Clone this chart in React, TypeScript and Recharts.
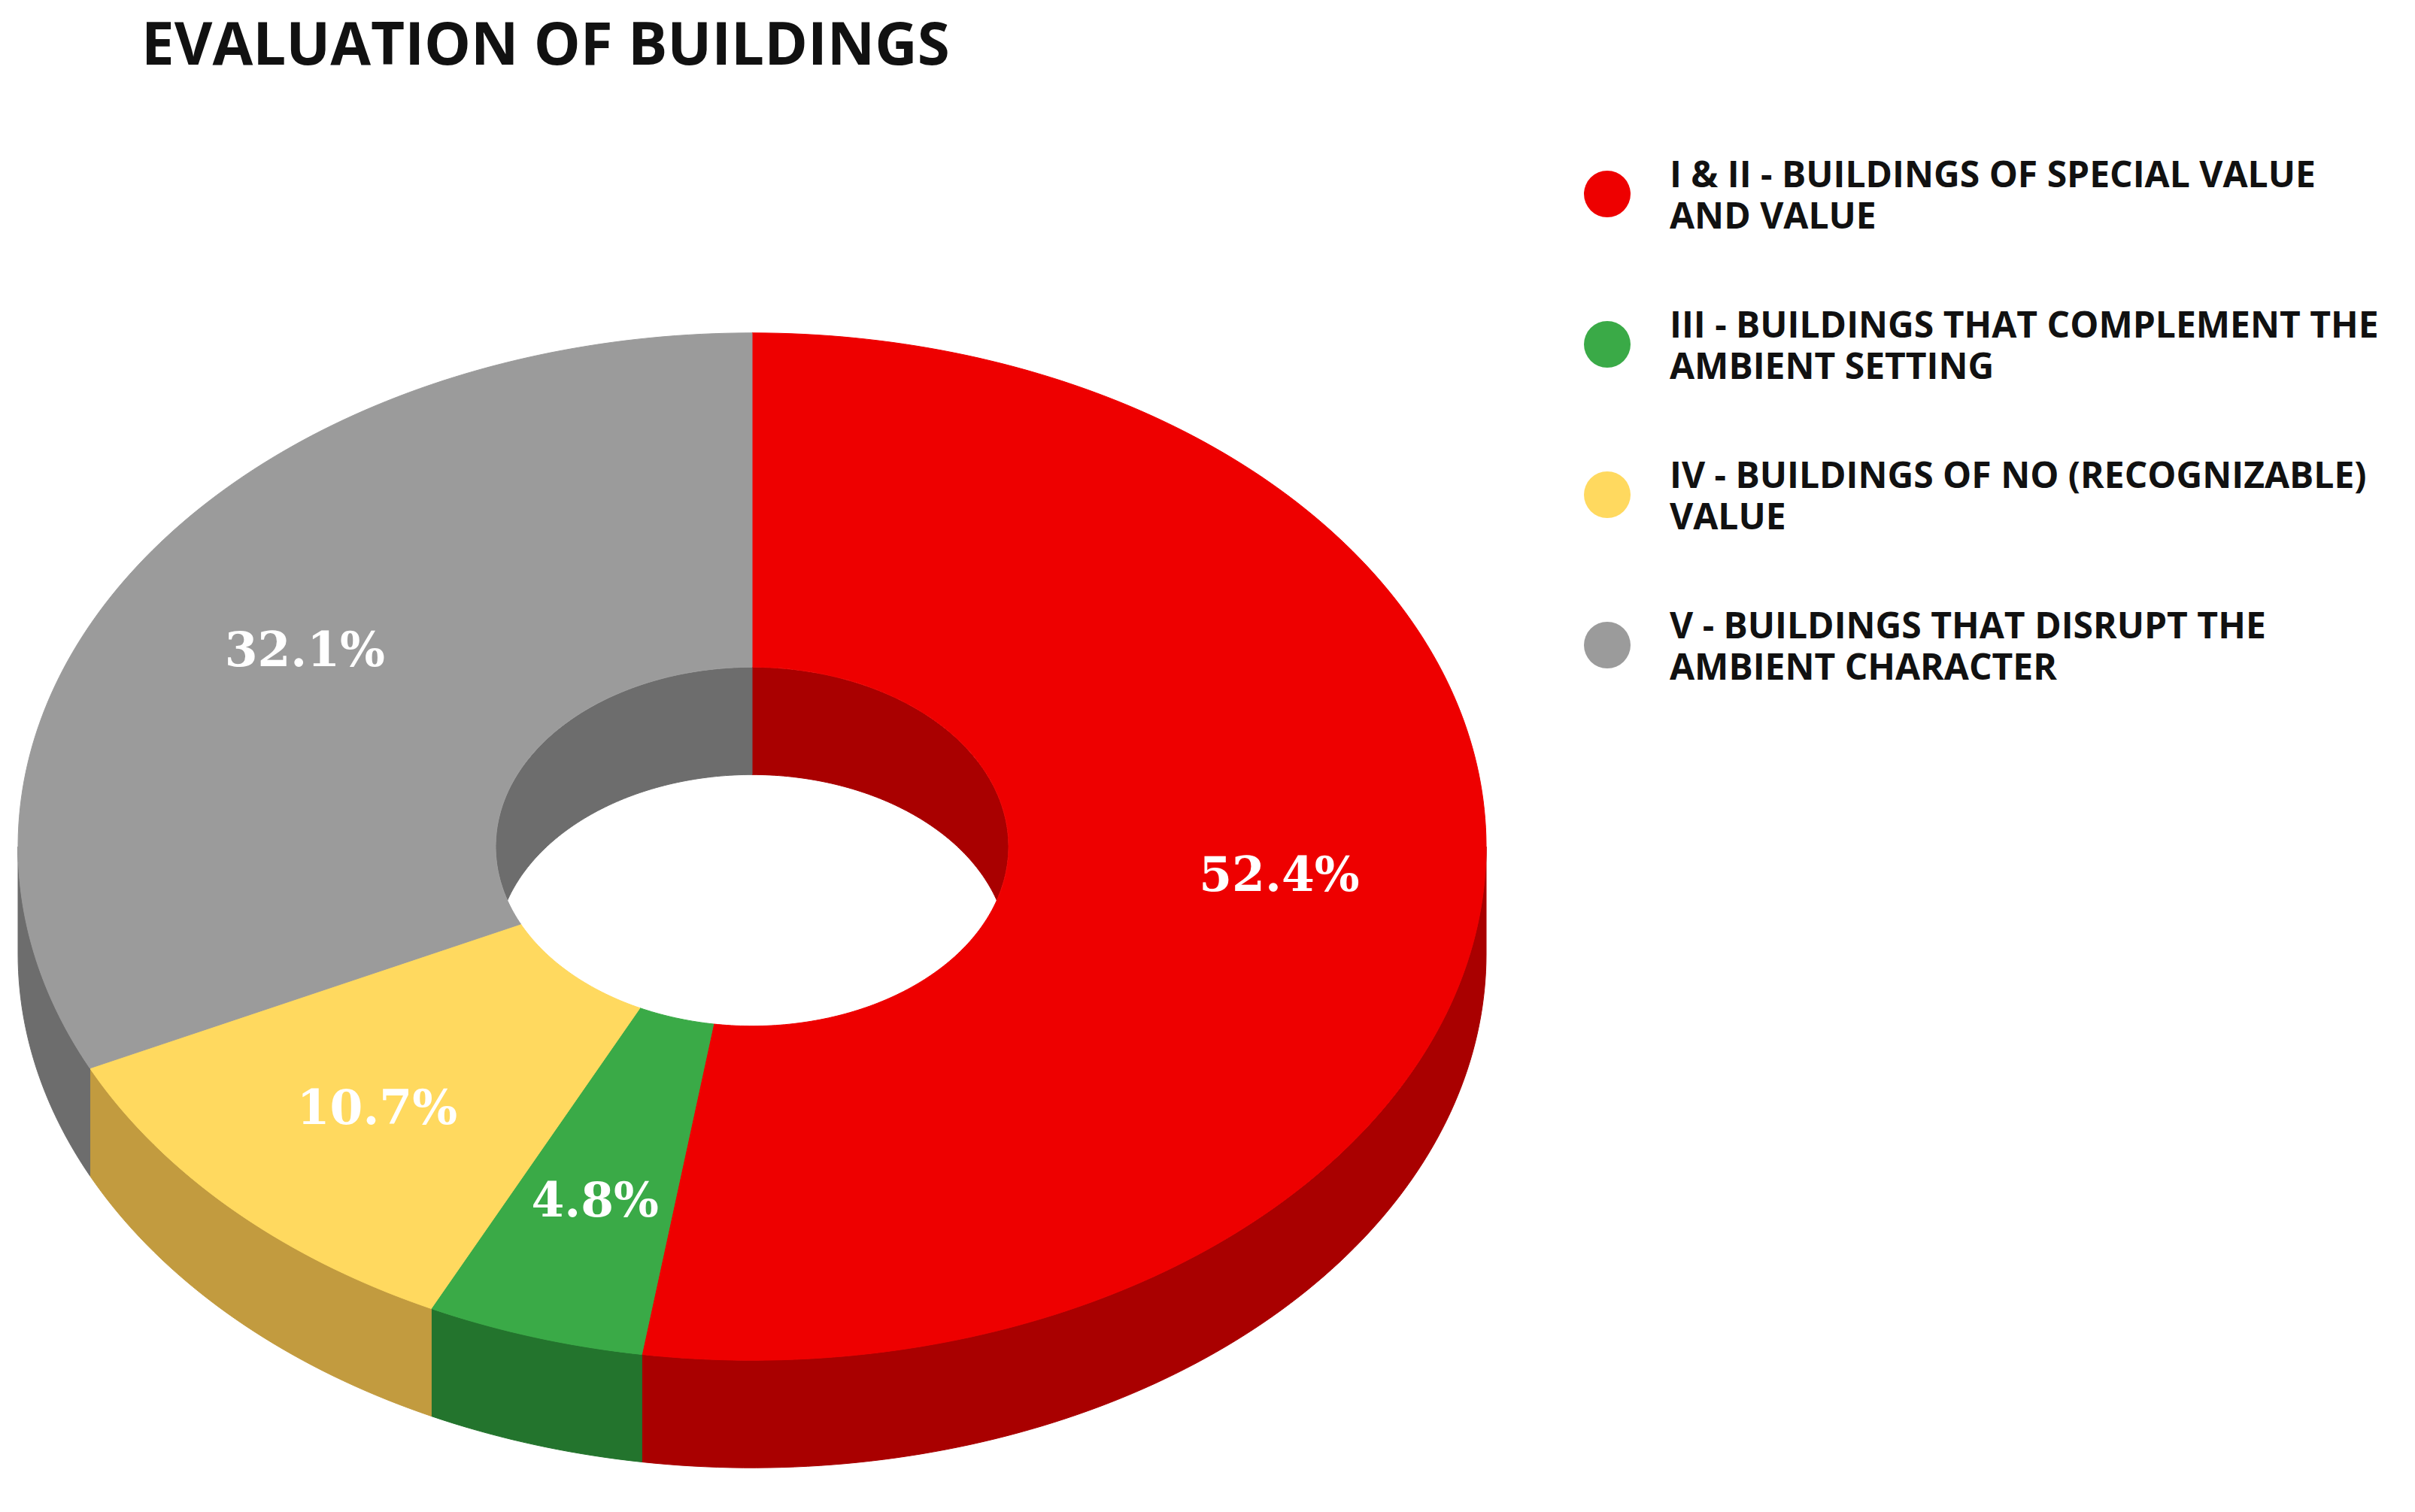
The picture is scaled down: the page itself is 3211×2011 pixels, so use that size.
import { PieChart, Pie, Cell, Legend } from "recharts";

const categories = [
  "I & II - BUILDINGS OF SPECIAL VALUE\nAND VALUE",
  "III - BUILDINGS THAT COMPLEMENT THE\nAMBIENT SETTING",
  "IV - BUILDINGS OF NO (RECOGNIZABLE)\nVALUE",
  "V - BUILDINGS THAT DISRUPT THE\nAMBIENT CHARACTER",
];
const shares = [52.4, 4.8, 10.7, 32.1];
const topColors = ["#ee0000", "#3aaa47", "#ffd95f", "#9b9b9b"];
const sideColors = ["#a90000", "#23742d", "#c29b3f", "#6d6d6d"];

const data = categories.map((name, i) => ({ name, value: shares[i] }));

// fake 3D: ellipse squash and wall height
const TILT = 0.7;
const DEPTH = 143;

type Pt = [number, number];

function pt(cx: number, cy: number, r: number, deg: number): Pt {
  const a = (deg * Math.PI) / 180;
  return [cx + r * Math.cos(a), cy - r * TILT * Math.sin(a)];
}

function arcPts(cx: number, cy: number, r: number, from: number, to: number): Pt[] {
  const n = Math.max(2, Math.ceil(Math.abs(to - from)));
  const out: Pt[] = [];
  for (let i = 0; i <= n; i++) out.push(pt(cx, cy, r, from + ((to - from) * i) / n));
  return out;
}

function toPath(points: Pt[]) {
  return "M" + points.map((p) => p[0].toFixed(2) + "," + p[1].toFixed(2)).join("L") + "Z";
}

function clipRanges(lo: number, hi: number, a: number, b: number) {
  const out: [number, number][] = [];
  for (let k = -2; k <= 2; k++) {
    const s = Math.max(lo, a + 360 * k);
    const e = Math.min(hi, b + 360 * k);
    if (e > s) out.push([s, e]);
  }
  return out;
}

function wall(cx: number, cy: number, r: number, s: number, e: number) {
  return toPath([...arcPts(cx, cy, r, s, e), ...arcPts(cx, cy + DEPTH, r, e, s)]);
}

// eslint-disable-next-line @typescript-eslint/no-explicit-any
function Slice3D(props: any) {
  const { cx, cy, innerRadius, outerRadius, startAngle, endAngle, fill } = props;
  const name = props.name ?? props.payload?.name;
  const idx = categories.indexOf(name);
  const side = sideColors[idx] ?? fill;
  const lo = Math.min(startAngle, endAngle);
  const hi = Math.max(startAngle, endAngle);
  const front = clipRanges(lo, hi, -180, 0);
  const back = clipRanges(lo, hi, 0, 180);
  const clipId = `hole-${idx}`;
  const top = toPath([
    ...arcPts(cx, cy, outerRadius, startAngle, endAngle),
    ...arcPts(cx, cy, innerRadius, endAngle, startAngle),
  ]);
  return (
    <g>
      <defs>
        <clipPath id={clipId}>
          <ellipse cx={cx} cy={cy} rx={innerRadius} ry={innerRadius * TILT} />
        </clipPath>
      </defs>
      {front.map(([s, e]) => (
        <path key={`o${s}`} d={wall(cx, cy, outerRadius, s, e)} fill={side} stroke={side} strokeWidth={1} />
      ))}
      <g clipPath={`url(#${clipId})`}>
        {back.map(([s, e]) => (
          <path key={`i${s}`} d={wall(cx, cy, innerRadius, s, e)} fill={side} stroke={side} strokeWidth={1} />
        ))}
      </g>
      <path d={top} fill={fill} stroke={fill} strokeWidth={1} />
    </g>
  );
}

// eslint-disable-next-line @typescript-eslint/no-explicit-any
function renderLabel(props: any) {
  const { cx, cy, midAngle, innerRadius, outerRadius, value } = props;
  const r = innerRadius + (outerRadius - innerRadius) * 0.57;
  const [x, y] = pt(cx, cy, r, midAngle);
  return (
    <text
      x={x}
      y={y}
      fill="#ffffff"
      textAnchor="middle"
      dominantBaseline="central"
      style={{ fontFamily: '"DejaVu Serif", serif', fontWeight: 700, fontSize: 63 }}
    >
      {`${Number(value).toFixed(1)}%`}
    </text>
  );
}

// eslint-disable-next-line @typescript-eslint/no-explicit-any
function LegendList({ payload }: { payload?: any[] }) {
  return (
    <div>
      {(payload ?? []).map((entry) => {
        const i = categories.indexOf(entry.value);
        return (
          <div key={entry.value} style={{ display: "flex", alignItems: "center", height: 200 }}>
            <span
              style={{
                width: 62,
                height: 62,
                borderRadius: "50%",
                background: topColors[i],
                flex: "none",
              }}
            />
            <span
              style={{
                marginLeft: 52,
                whiteSpace: "pre-line",
                fontFamily: '"Open Sans", sans-serif',
                fontWeight: 700,
                fontSize: 48,
                lineHeight: "55px",
                color: "#111",
              }}
            >
              {entry.value}
            </span>
          </div>
        );
      })}
    </div>
  );
}

export default function App() {
  return (
    <div style={{ position: "relative", width: 3211, height: 2011, background: "#fff" }}>
      <style>{"body{margin:0}"}</style>
      <div
        style={{
          position: "absolute",
          left: 188,
          top: 17,
          fontFamily: '"Open Sans", sans-serif',
          fontWeight: 700,
          fontSize: 78,
          lineHeight: "79px",
          color: "#111",
          whiteSpace: "nowrap",
        }}
      >
        EVALUATION OF BUILDINGS
      </div>
      <div style={{ position: "absolute", left: 0, top: 0 }}>
        <PieChart width={3211} height={2011} margin={{ top: 0, right: 0, bottom: 0, left: 0 }}>
          <Pie
            data={data}
            dataKey="value"
            nameKey="name"
            cx={1000}
            cy={1126}
            outerRadius={976}
            innerRadius={341}
            startAngle={90}
            endAngle={-270}
            stroke="none"
            shape={Slice3D}
            inactiveShape={Slice3D}
            activeShape={Slice3D}
            label={renderLabel}
            labelLine={false}
            isAnimationActive={false}
          >
            {data.map((d, i) => (
              <Cell key={d.name} fill={topColors[i]} />
            ))}
          </Pie>
          <Legend
            layout="vertical"
            align="right"
            verticalAlign="top"
            content={<LegendList />}
            wrapperStyle={{ left: 2106, top: 158, width: 1105 }}
          />
        </PieChart>
      </div>
    </div>
  );
}
